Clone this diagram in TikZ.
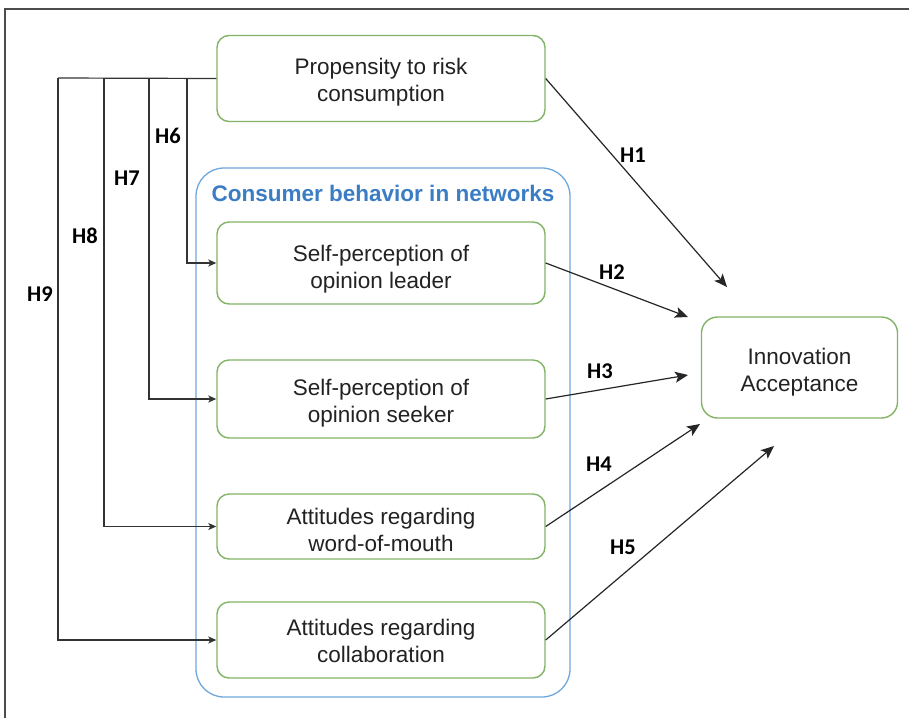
\documentclass[tikz,border=0pt]{standalone}
\usepackage{fontspec}
\setmainfont{Liberation Sans}
\newfontfamily\hfont{Carlito}
\usetikzlibrary{arrows.meta}
\definecolor{boxgreen}{HTML}{82B366}
\definecolor{contblue}{HTML}{6FA8DC}
\definecolor{titleblue}{HTML}{3B7DC4}
\definecolor{txt}{HTML}{222222}
\tikzset{
  var/.style={draw=boxgreen, line width=1.4pt, rounded corners=12pt, minimum width=328pt, inner sep=0pt},
  vtxt/.style={align=center, text=txt, font=\fontsize{22.5}{27}\selectfont, inner sep=0pt},
  arr/.style={draw=black!85, line width=1.2pt, -{Stealth[length=13pt,width=11pt,inset=3pt]}},
  fb/.style={draw=black!80, line width=1.2pt, -{Stealth[length=8pt,width=7pt,inset=2pt]}},
  hlab/.style={font=\hfont\bfseries\fontsize{22.5}{22.5}\selectfont, text=black},
}
\begin{document}
\begin{tikzpicture}[x=1pt,y=-1pt]
\useasboundingbox (0,0) rectangle (909,718);
\fill[white] (0,0) rectangle (909,718);
\draw[black!70, line width=1.6pt] (5,718) -- (5,9) -- (909,9);
% container
\node[draw=contblue, line width=1.3pt, rounded corners=28pt, minimum width=374pt, minimum height=529pt, inner sep=0pt] (cont) at (383,432.5) {};
\node[font=\bfseries\fontsize{22.5}{26}\selectfont, text=titleblue] (title) at (383,193) {Consumer behavior in networks};
% boxes
\node[var, minimum height=86pt] (prop) at (381,78.5) {};
\node[var, minimum height=82pt] (leader) at (381,263) {};
\node[var, minimum height=78pt] (seeker) at (381,399) {};
\node[var, minimum height=65pt] (wom) at (381,526.5) {};
\node[var, minimum height=76pt] (collab) at (381,640) {};
\node[var, minimum width=196pt, minimum height=101pt, rounded corners=16pt] (innov) at (799.5,367.5) {};
% box texts
\node[vtxt] (propT) at (381,82.5) {Propensity to risk\\consumption};
\node[vtxt] (leaderT) at (381,269) {Self-perception of\\opinion leader};
\node[vtxt] (seekerT) at (381,403) {Self-perception of\\opinion seeker};
\node[vtxt] (womT) at (381,529.5) {Attitudes regarding\\word-of-mouth};
\node[vtxt] (collabT) at (381,640.5) {Attitudes regarding\\collaboration};
\node[vtxt] (innovT) at (799.5,372.5) {Innovation\\Acceptance};
% arrow end points
\coordinate (t1) at (727,287);
\coordinate (t2) at (688,317);
\coordinate (t3) at (688,375);
\coordinate (t4) at (700,424);
\coordinate (t5) at (774,446);
\draw[arr] (prop.east) -- (t1);
\draw[arr] (leader.east) -- (t2);
\draw[arr] (seeker.east) -- (t3);
\draw[arr] (wom.east) -- (t4);
\draw[arr] (collab.east) -- (t5);
% feedback lines
\coordinate (c6) at (187,78);
\coordinate (c7) at (149,78);
\coordinate (c8) at (104,78);
\coordinate (c9) at (58,78);
\draw[black!80, line width=1.2pt] (prop.west) -- (c9);
\draw[fb] (c6) |- (leader.west);
\draw[fb] (c7) |- (seeker.west);
\draw[fb] (c8) |- (wom.west);
\draw[fb] (c9) |- (collab.west);
% labels
\node[hlab] (h1) at (633,155) {H1};
\node[hlab] (h2) at (612,272) {H2};
\node[hlab] (h3) at (600,371) {H3};
\node[hlab] (h4) at (599,464) {H4};
\node[hlab] (h5) at (623,547) {H5};
\node[hlab] (h6) at (168,136) {H6};
\node[hlab] (h7) at (127,178) {H7};
\node[hlab] (h8) at (85,236) {H8};
\node[hlab] (h9) at (40,294) {H9};
\end{tikzpicture}
\end{document}
